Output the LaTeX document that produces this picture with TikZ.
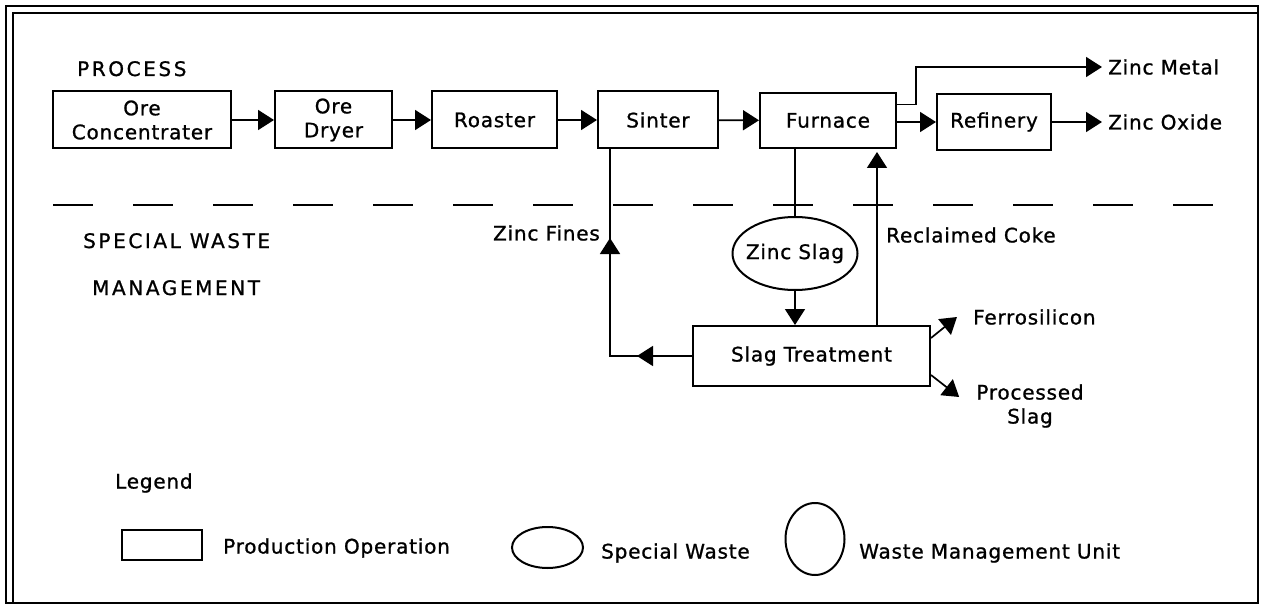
\documentclass[tikz,border=0pt]{standalone}
\usepackage{fontspec}
\setmainfont{DejaVu Sans}[LetterSpace=4,FakeBold=1]
\newfontfamily\capsfont{DejaVu Sans}[LetterSpace=13,FakeBold=1]
\usetikzlibrary{arrows.meta,shapes.geometric}
\newcommand{\lab}{\fontsize{20pt}{24pt}\selectfont}
\newcommand{\capslab}{\capsfont\fontsize{20pt}{24pt}\selectfont}
\begin{document}
\begin{tikzpicture}[x=1pt,y=-1pt,
  box/.style={draw, line width=2pt, inner sep=0pt, align=center, font=\lab, minimum height=57pt},
  oval/.style={draw, ellipse, line width=2pt, inner xsep=-6pt, inner ysep=0pt, font=\lab},
  lbl/.style={inner sep=0pt, font=\lab, align=center},
  caps/.style={inner sep=0pt, font=\capslab},
  lnk/.style={line width=1.7pt},
  arr/.style={line width=1.7pt, -{Triangle[length=16pt,width=20pt]}},
  frame/.style={line width=2.4pt}]
\useasboundingbox (0,0) rectangle (1264,607);
% frame
\draw[frame] (6,6) rectangle (1258,603);
\draw[frame] (13,603) -- (13,13) -- (1258,13);
% titles
\node[caps, anchor=base west] (proc) at (77,76) {PROCESS};
\node[caps, anchor=base west] (swm1) at (83,248) {SPECIAL WASTE};
\node[caps, anchor=base west] (swm2) at (92,295) {MANAGEMENT};
% process boxes
\node[box, minimum width=178pt] (oc) at (142,120) {Ore\\Concentrater};
\node[box, minimum width=117pt] (od) at (333.5,120) {Ore\\Dryer};
\node[box, minimum width=125pt] (ro) at (494.5,120) {Roaster};
\node[box, minimum width=120pt] (si) at (658,120) {Sinter};
\node[box, minimum width=136pt, minimum height=55pt] (fu) at (828,120.5) {Furnace};
\node[box, minimum width=114pt, minimum height=56pt] (re) at (994,122) {Refinery};
\node[lbl, anchor=west] (zm) at (1108,67) {Zinc Metal};
\node[lbl, anchor=west] (zo) at (1108,122) {Zinc Oxide};
\draw[arr] (oc) -- (od);
\draw[arr] (od) -- (ro);
\draw[arr] (ro) -- (si);
\draw[arr] (si) -- (fu);
\draw[arr] (fu.east |- re.west) -- (re.west);
\draw[arr] (re) -- ([xshift=-6pt]zo.west);
\draw[arr] ([yshift=16pt]fu.east) -- ++(19,0) |- ([xshift=-6pt]zm.west);
% dashed separator
\coordinate (dl) at (53,205);
\coordinate (dr) at (1217,205);
\draw[line width=2pt, dash pattern=on 40pt off 40pt] (dl) -- (dr);
% waste management
\node[oval, minimum width=125pt, minimum height=73pt] (zs) at (795,253.5) {Zinc Slag};
\node[box, minimum width=237pt, minimum height=60pt] (st) at (811.5,356) {Slag Treatment};
\node[lbl, anchor=east] (zf) at (600,233) {Zinc Fines};
\node[lbl, anchor=west] (rc) at (886,235) {Reclaimed Coke};
\node[lbl, anchor=west] (fe) at (973,317) {Ferrosilicon};
\node[lbl] (ps) at (1030,406) {Processed\\Slag};
\coordinate (c1) at (610,356);
\coordinate (rcx) at (877,0);
\draw[lnk] (st.west) -- (c1) -- (c1 |- si.south);
\draw[arr] (st.west) -- ++(-55,0);
\draw[arr] (c1) -- ++(0,-118);
\draw[lnk] (zs.north |- fu.south) -- (zs.north);
\draw[arr] (zs.south) -- (zs.south |- st.north);
\draw[arr, shorten >=3pt] (rcx |- st.north) -- (rcx |- fu.south);
\draw[arr] ([yshift=18pt]st.east) -- ([xshift=-16pt]fe.west);
\draw[arr] ([yshift=-19pt]st.east) -- ([xshift=-17pt,yshift=9pt]ps.west);
% legend
\node[lbl, anchor=west] (leg) at (115,483) {Legend};
\node[draw, line width=2pt, minimum width=80pt, minimum height=30pt, inner sep=0pt] (lrect) at (162,545) {};
\node[lbl, anchor=west] (lt1) at (223,548) {Production Operation};
\node[draw, ellipse, line width=2pt, minimum width=71pt, minimum height=41pt, inner sep=0pt] (lell) at (547.5,547.5) {};
\node[lbl, anchor=west] (lt2) at (601,553) {Special Waste};
\node[draw, ellipse, line width=2pt, minimum width=59pt, minimum height=72pt, inner sep=0pt] (lcirc) at (815,539) {};
\node[lbl, anchor=west] (lt3) at (859,553) {Waste Management Unit};
\end{tikzpicture}
\end{document}
